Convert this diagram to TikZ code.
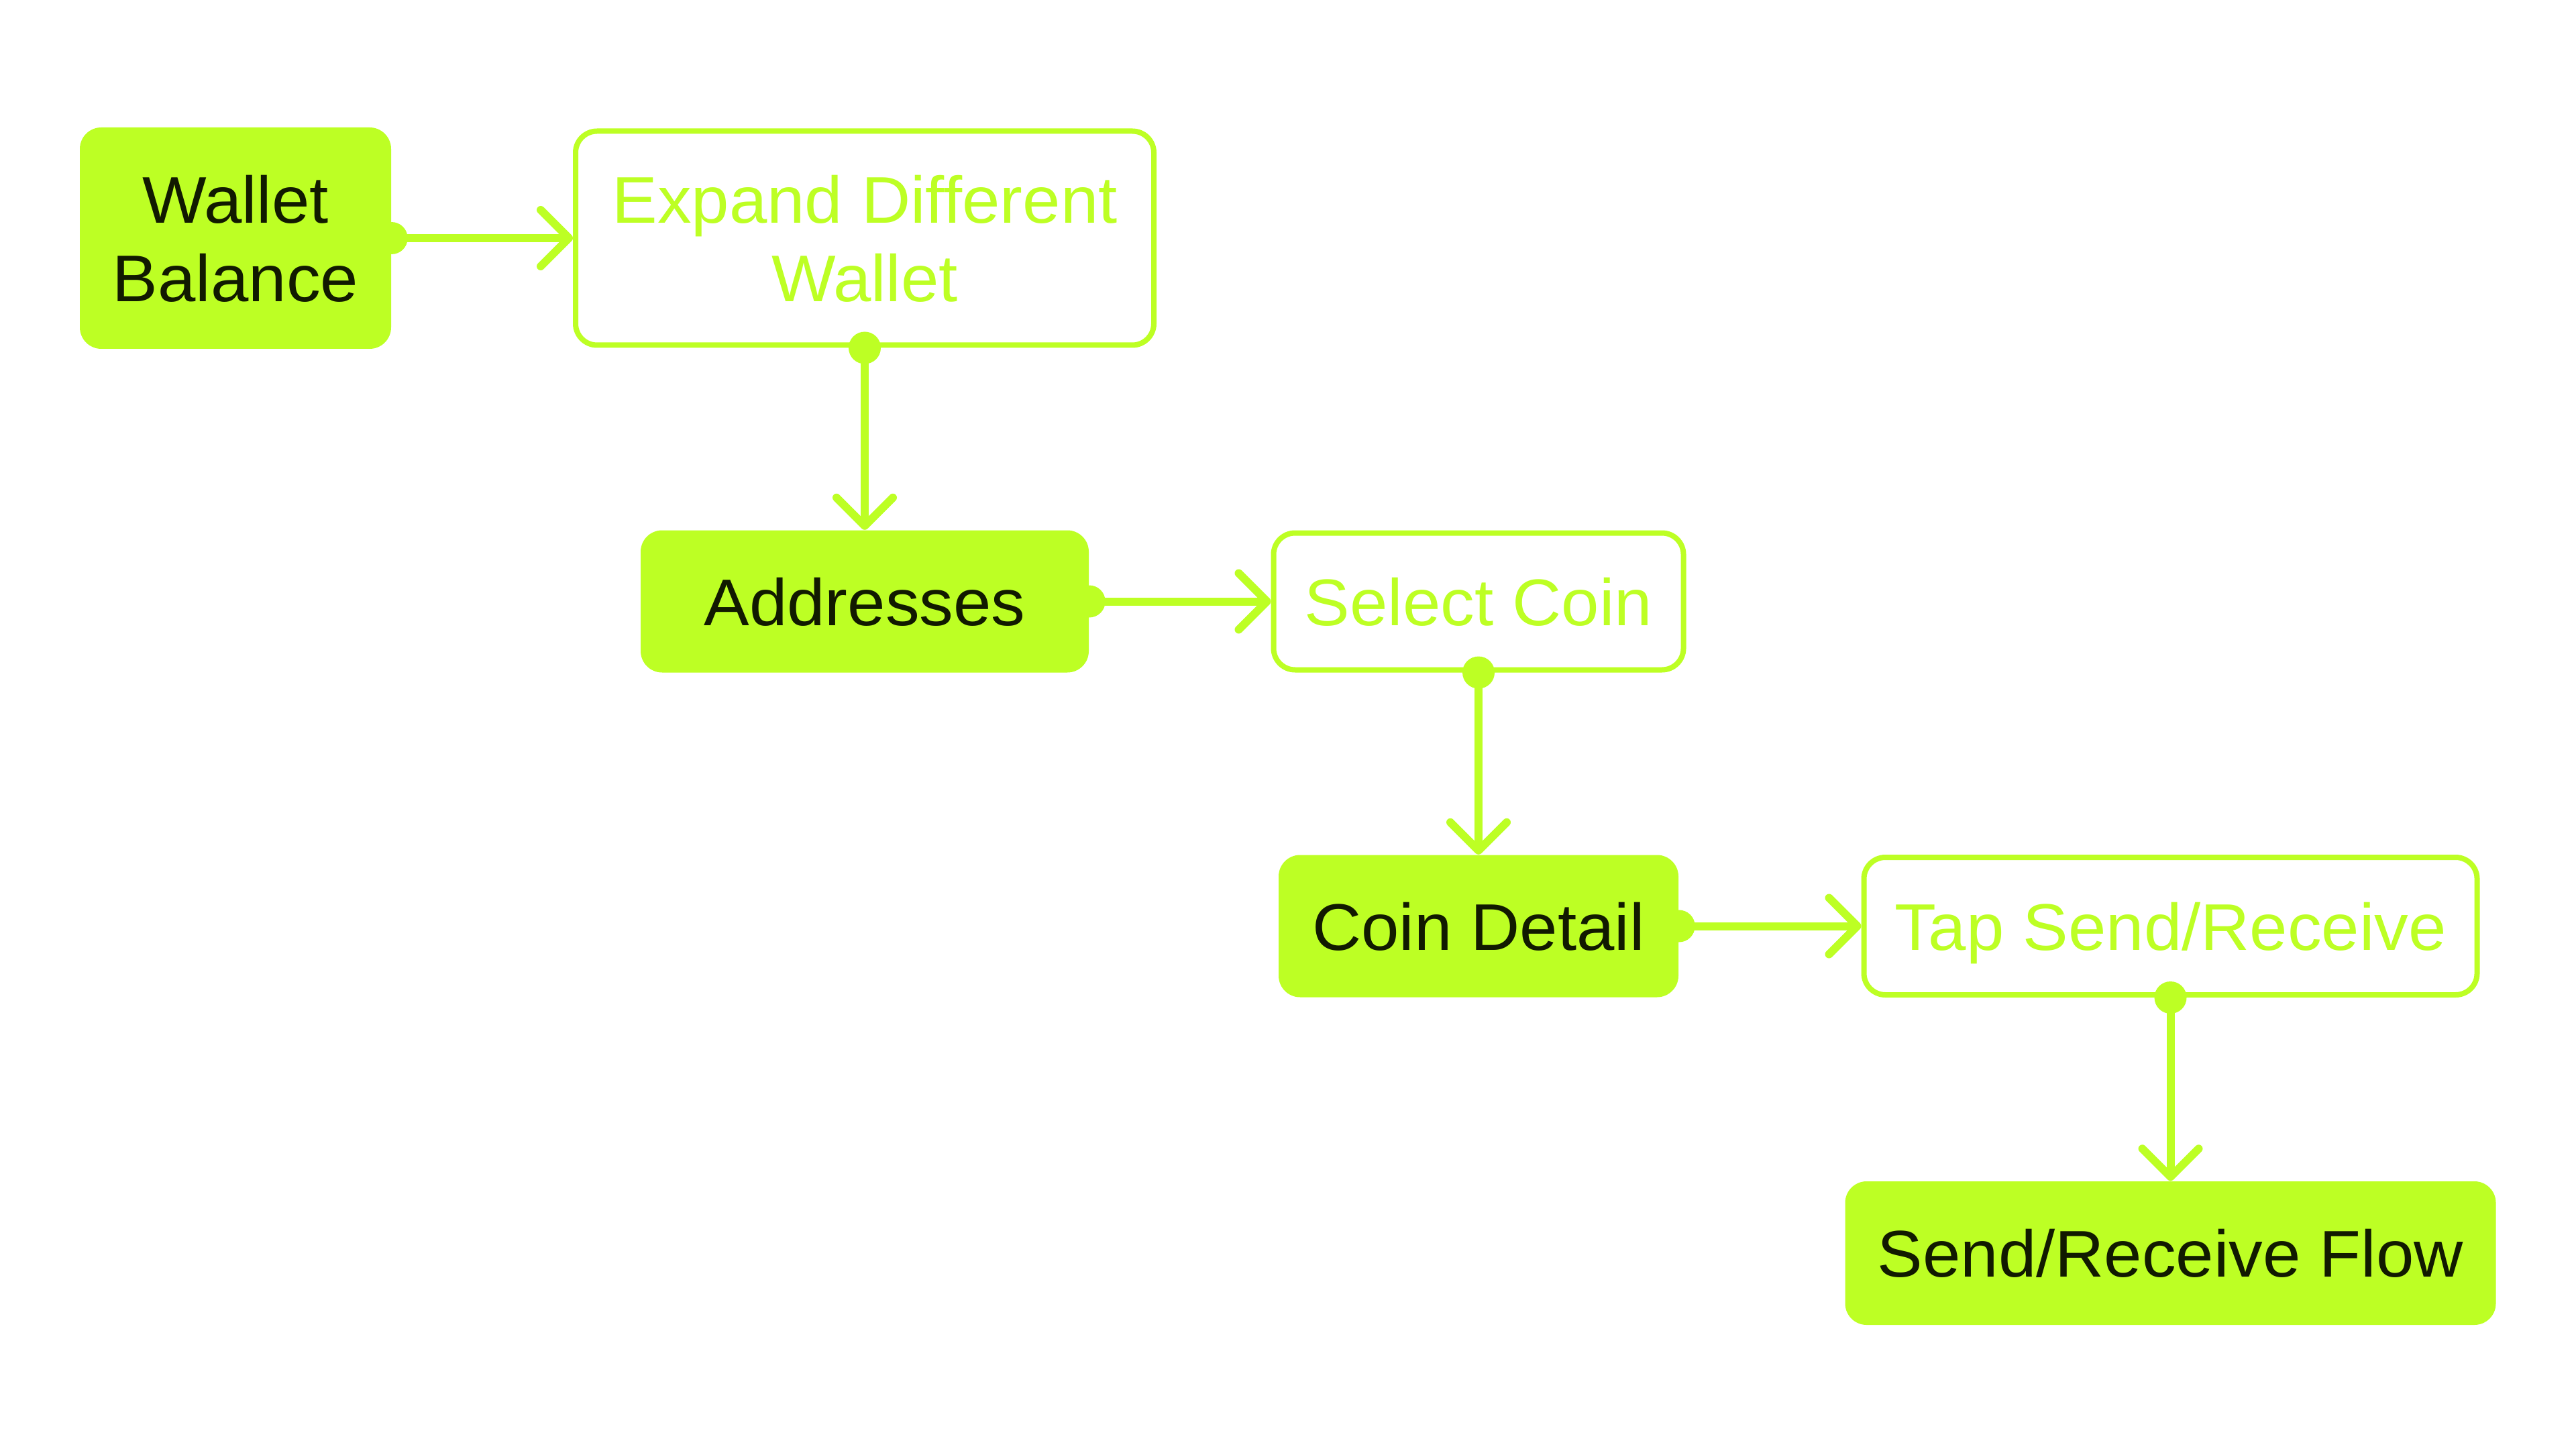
\documentclass[tikz,border=0pt]{standalone}
\usepackage{fontspec}
\setmainfont[FakeStretch=1.03]{Liberation Sans}
\usepackage{xcolor}
\usetikzlibrary{positioning, arrows.meta}
\definecolor{lime}{HTML}{BDFF24}
\definecolor{ink}{HTML}{111A00}

\begin{document}
\begin{tikzpicture}[
    box/.style={font=\fontsize{28}{33.3}\selectfont, align=center, text depth=0pt, inner sep=0pt, rounded corners=0.32cm},
    filled/.style={box, fill=lime, text=ink},
    outlined/.style={box, draw=lime, line width=0.08cm, fill=white, text=lime},
    link/.style={draw=lime, line width=0.12cm, -{Straight Barb[length=0.42cm, width=0.84cm, round]}}
]
    \fill[white] (0,0) rectangle (38.4,-21.6);
    \useasboundingbox (0,0) rectangle (38.4,-21.6);

    \node[filled, minimum width=4.64cm, minimum height=3.30cm] (wallet) at (3.51,-3.55) {Wallet\\Balance};
    \node[outlined, minimum width=8.62cm, minimum height=3.19cm] (expand) at (12.89,-3.55) {Expand Different\\Wallet};
    \node[filled, minimum width=6.68cm, minimum height=2.12cm] (addresses) at (12.89,-8.965) {Addresses};
    \node[outlined, minimum width=6.11cm, minimum height=2.04cm] (select) at (22.04,-8.965) {Select Coin};
    \node[filled, minimum width=5.96cm, minimum height=2.12cm] (detail) at (22.04,-13.805) {Coin Detail};
    \node[outlined, minimum width=9.14cm, minimum height=2.05cm] (tap) at (32.355,-13.805) {Tap Send/Receive};
    \node[filled, minimum width=9.70cm, minimum height=2.14cm] (flow) at (32.355,-18.68) {Send/Receive Flow};

    \foreach \a/\sa/\b/\sb in {wallet/east/expand/west, expand/south/addresses/north, addresses/east/select/west,
                               select/south/detail/north, detail/east/tap/west, tap/south/flow/north} {
        \draw[link] (\a.\sa) -- (\b.\sb);
        \fill[lime] (\a.\sa) circle (0.24);
    }
\end{tikzpicture}
\end{document}
